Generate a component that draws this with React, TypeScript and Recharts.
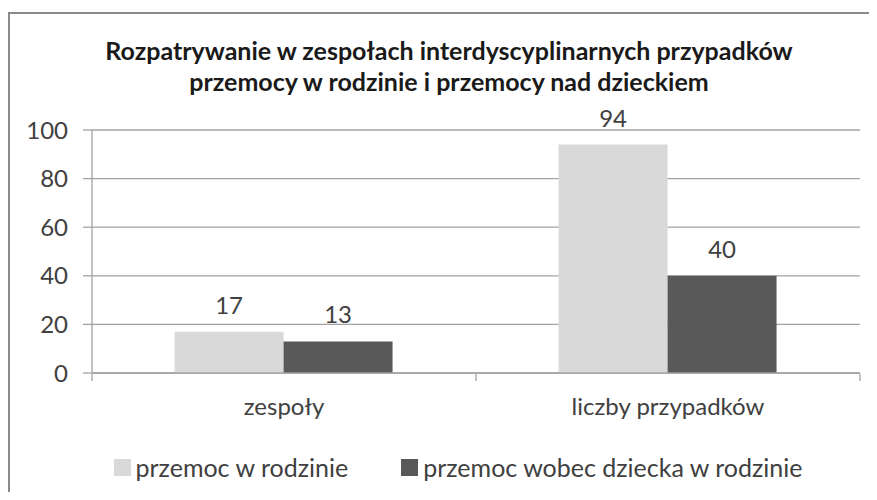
import React from 'react';
import { BarChart, Bar, XAxis, YAxis, CartesianGrid, Legend, LabelList } from 'recharts';

const categories = ['zespoły', 'liczby przypadków'];
const przemocWRodzinie = [17, 94];
const przemocWobecDziecka = [13, 40];
const yTicks = [0, 20, 40, 60, 80, 100];
const edgeTicks = [0, 1, 2];
const seriesNames = ['przemoc w rodzinie', 'przemoc wobec dziecka w rodzinie'];
const titleLines = [
  'Rozpatrywanie w zespołach interdyscyplinarnych przypadków',
  'przemocy w rodzinie i przemocy nad dzieckiem',
];

const data = categories.map((name, i) => ({
  name,
  pos: i + 0.5,
  a: przemocWRodzinie[i],
  b: przemocWobecDziecka[i],
}));

const FONT = 'Lato, "Open Sans", sans-serif';
const LIGHT = '#d9d9d9';
const DARK = '#595959';
const GRID = '#a3a3a3';
const TEXT = '#404040';
const FRAME = '#8a8a8a';

const renderLegend = (props: any) => {
  const payload = props.payload || [];
  return (
    <div
      style={{
        display: 'flex',
        justifyContent: 'center',
        alignItems: 'center',
        paddingLeft: 29,
        fontSize: 25,
        lineHeight: '28px',
        color: TEXT,
        fontFamily: FONT,
      }}
    >
      {payload.map((p: any, i: number) => (
        <div key={i} style={{ display: 'flex', alignItems: 'center', marginRight: i === 0 ? 53 : 0 }}>
          <span style={{ display: 'inline-block', width: 17, height: 17, background: p.color, marginRight: 5 }} />
          <span>{p.value}</span>
        </div>
      ))}
    </div>
  );
};

export default function App() {
  return (
    <div style={{ position: 'relative', width: 869, height: 484, overflow: 'hidden', fontFamily: FONT }}>
      <style>{'html,body{overflow:hidden;}'}</style>
      <div style={{ position: 'absolute', left: 0, top: 4, width: 869, height: 2, background: FRAME }} />
      <div style={{ position: 'absolute', left: 0, top: 4, width: 2, height: 480, background: FRAME }} />
      <div
        style={{
          position: 'absolute',
          left: 2,
          top: 27,
          width: 867,
          paddingLeft: 11,
          boxSizing: 'border-box',
          textAlign: 'center',
          fontWeight: 700,
          fontSize: 25,
          lineHeight: '31px',
          color: '#1a1a1a',
          zIndex: 2,
        }}
      >
        {titleLines.map((t, i) => (
          <div key={i}>{t}</div>
        ))}
      </div>
      <div style={{ position: 'absolute', left: 2, top: 6 }}>
        <BarChart
          width={867}
          height={486}
          data={data}
          margin={{ top: 116, right: 17, left: 0, bottom: 125 }}
          barCategoryGap="21.5%"
          barGap={0}
          style={{ fontFamily: FONT }}
        >
          <CartesianGrid horizontal={true} vertical={false} stroke={GRID} strokeWidth={1.3} />
          <YAxis
            width={82}
            domain={[0, 100]}
            ticks={yTicks}
            interval={0}
            tickSize={9}
            tickMargin={15}
            axisLine={{ stroke: GRID, strokeWidth: 1.3 }}
            tickLine={{ stroke: GRID, strokeWidth: 1.3 }}
            tick={{ fill: TEXT, fontSize: 24, fontFamily: FONT }}
          />
          <XAxis
            dataKey="name"
            height={1}
            tickLine={false}
            tickSize={0}
            tickMargin={25}
            axisLine={{ stroke: GRID, strokeWidth: 1.3 }}
            tick={{ fill: TEXT, fontSize: 24, fontFamily: FONT }}
            interval={0}
          />
          <XAxis
            xAxisId="edge"
            dataKey="pos"
            type="number"
            domain={[0, 2]}
            allowDataOverflow
            ticks={edgeTicks}
            interval={0}
            height={1}
            tickSize={7}
            axisLine={false}
            tickLine={{ stroke: GRID, strokeWidth: 1.3 }}
            tickFormatter={() => ''}
          />
          <Legend
            content={renderLegend}
            verticalAlign="middle"
            align="center"
            layout="horizontal"
            wrapperStyle={{ top: 439, left: 0, width: 867 }}
          />
          <Bar dataKey="a" name={seriesNames[0]} fill={LIGHT} isAnimationActive={false}>
            <LabelList dataKey="a" position="top" offset={18} fill={TEXT} fontSize={24} fontFamily={FONT} />
          </Bar>
          <Bar dataKey="b" name={seriesNames[1]} fill={DARK} isAnimationActive={false}>
            <LabelList dataKey="b" position="top" offset={18} fill={TEXT} fontSize={24} fontFamily={FONT} />
          </Bar>
        </BarChart>
      </div>
    </div>
  );
}
